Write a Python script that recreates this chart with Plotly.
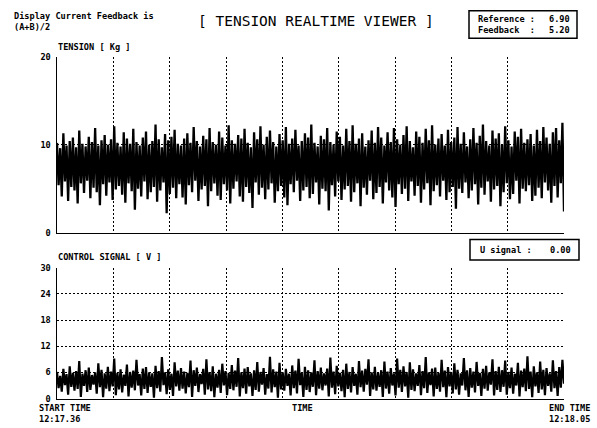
import plotly.graph_objects as go

# ---------------- data ----------------
# TENSION [Kg]: upper / lower swing of each sample pair across the time window
tension_hi = [
    10.2, 9.6, 11.3, 9.9, 10.4, 10.8, 9.7, 11.6, 10.1, 9.8,
    10.9, 10.3, 11.9, 9.9, 10.5, 11.1, 10.0, 10.6, 12.1, 10.2,
    9.8, 11.4, 10.7, 10.1, 11.8, 10.3, 9.9, 10.8, 11.5, 10.0,
    10.4, 12.3, 10.6, 9.7, 11.2, 10.5, 10.9, 11.7, 10.1, 9.9,
    10.7, 11.3, 10.2, 12.0, 10.4, 9.8, 11.0, 10.6, 11.9, 10.3,
    10.0, 11.5, 10.8, 9.9, 12.2, 10.5, 10.1, 11.1, 10.7, 11.8,
    10.2, 9.7, 11.4, 10.6, 12.1, 10.0, 10.9, 11.6, 10.3, 9.8,
    11.2, 10.5, 12.0, 10.1, 10.7, 11.7, 9.9, 10.4, 11.3, 10.8,
    12.3, 10.2, 9.8, 11.0, 10.6, 11.9, 10.3, 10.0, 11.5, 10.9,
    9.9, 11.8, 10.4, 12.2, 10.1, 10.7, 11.3, 9.8, 10.5, 11.6,
    10.2, 12.0, 10.8, 9.9, 11.4, 10.3, 11.9, 10.6, 10.0, 11.1,
    12.1, 10.4, 9.7, 11.5, 10.9, 10.2, 11.8, 10.5, 12.2, 10.0,
    10.7, 11.2, 9.9, 11.7, 10.3, 10.8, 12.0, 10.1, 11.4, 9.8,
    10.6, 11.9, 10.2, 11.0, 12.3, 10.4, 9.9, 11.6, 10.7, 11.3,
    10.0, 12.1, 10.5, 9.8, 11.5, 10.9, 11.8, 10.2, 10.6, 11.2,
    9.9, 11.7, 10.4, 12.0, 10.8, 10.1, 11.4, 11.9, 10.5, 12.5,
]
tension_lo = [
    5.4, 4.1, 5.8, 3.6, 5.2, 4.8, 3.3, 5.6, 4.5, 5.9,
    3.9, 5.1, 4.6, 3.1, 5.5, 4.2, 5.7, 3.7, 4.9, 5.3,
    4.3, 3.4, 5.6, 4.7, 2.6, 5.0, 4.1, 5.8, 3.8, 4.6,
    5.2, 3.5, 4.8, 5.7, 2.2, 4.4, 5.1, 3.9, 5.5, 4.0,
    3.2, 5.4, 4.6, 5.9, 3.6, 4.9, 5.3, 3.0, 4.7, 5.6,
    4.2, 3.7, 5.5, 4.8, 3.3, 5.0, 5.8, 4.1, 3.5, 5.2,
    4.5, 2.8, 5.7, 4.3, 5.1, 3.8, 4.9, 5.6, 3.4, 4.7,
    5.3, 4.0, 3.1, 5.5, 4.6, 5.9, 3.6, 4.8, 5.2, 3.9,
    4.4, 5.7, 3.2, 5.0, 4.7, 2.5, 5.4, 4.1, 5.8, 3.7,
    4.9, 5.3, 3.5, 4.6, 5.6, 3.0, 5.1, 4.3, 5.9, 3.8,
    4.5, 5.2, 3.3, 5.7, 4.8, 4.0, 2.9, 5.5, 4.4, 5.0,
    3.6, 5.8, 4.2, 5.3, 3.4, 4.9, 5.6, 3.1, 4.7, 5.4,
    4.1, 5.9, 3.7, 4.6, 5.2, 2.7, 5.0, 4.5, 5.7, 3.9,
    4.8, 5.5, 3.2, 5.1, 4.3, 5.8, 3.5, 4.9, 5.3, 3.0,
    4.6, 5.6, 3.8, 4.4, 5.9, 3.3, 5.0, 4.7, 5.4, 3.6,
    4.2, 5.1, 3.9, 5.7, 4.8, 3.4, 5.3, 4.0, 5.6, 2.4,
]
# CONTROL SIGNAL [V]
control_hi = [
    6.1, 5.2, 6.8, 5.6, 7.4, 5.9, 6.3, 8.6, 5.7, 6.5,
    7.1, 5.4, 6.0, 8.1, 6.6, 5.8, 7.3, 6.2, 9.2, 5.9,
    6.7, 5.5, 7.8, 6.1, 6.4, 8.9, 5.6, 6.9, 7.2, 6.0,
    5.8, 7.5, 6.3, 9.5, 6.0, 6.7, 5.7, 8.3, 6.4, 7.0,
    6.2, 5.9, 8.7, 6.5, 7.1, 5.6, 6.8, 9.0, 6.1, 7.4,
    5.7, 6.6, 8.0, 6.3, 5.9, 7.7, 6.4, 9.3, 6.0, 6.9,
    7.2, 5.8, 6.5, 8.4, 6.1, 7.0, 5.6, 9.6, 6.7, 6.2,
    8.2, 6.0, 6.8, 5.7, 7.6, 6.4, 9.1, 5.9, 7.3, 6.5,
    6.0, 8.8, 6.3, 7.1, 5.8, 6.9, 9.4, 6.2, 7.5, 5.9,
    6.6, 8.0, 6.1, 7.2, 5.7, 8.6, 6.4, 6.8, 9.0, 6.0,
    7.3, 5.9, 6.5, 8.5, 6.2, 7.0, 5.8, 9.2, 6.6, 7.4,
    6.1, 8.3, 6.7, 5.8, 7.7, 6.3, 9.5, 6.0, 6.9, 7.1,
    5.9, 8.9, 6.4, 7.2, 6.1, 8.1, 6.6, 5.8, 9.3, 6.5,
    7.0, 6.2, 8.4, 5.9, 6.8, 7.5, 6.0, 9.0, 6.3, 7.3,
    6.5, 8.7, 6.1, 7.1, 5.7, 8.2, 6.4, 6.9, 9.7, 6.2,
    7.4, 6.0, 8.5, 6.6, 7.0, 5.8, 8.8, 6.3, 7.2, 8.9,
]
control_lo = [
    2.4, 1.6, 3.1, 0.9, 2.7, 1.8, 2.2, 0.4, 2.9, 1.5,
    2.0, 3.2, 1.1, 2.6, 0.3, 2.3, 1.7, 2.8, 0.8, 2.1,
    1.4, 2.9, 0.5, 2.5, 1.9, 3.0, 0.7, 2.2, 1.3, 2.7,
    0.2, 2.4, 1.6, 3.1, 1.0, 2.0, 0.6, 2.8, 1.8, 2.3,
    1.2, 2.6, 0.4, 2.9, 1.5, 3.3, 0.9, 2.1, 1.7, 0.3,
    2.5, 1.3, 3.0, 0.8, 2.2, 1.9, 2.7, 0.5, 2.4, 1.1,
    2.8, 0.6, 2.0, 1.6, 3.2, 0.9, 2.3, 1.4, 2.6, 0.2,
    2.1, 1.8, 2.9, 0.7, 2.4, 1.2, 3.1, 0.4, 2.0, 1.5,
    2.7, 0.8, 2.3, 1.9, 3.0, 0.5, 2.5, 1.0, 2.8, 1.7,
    0.3, 2.2, 1.4, 2.9, 0.9, 2.6, 1.6, 3.2, 0.6, 2.1,
    1.8, 2.7, 0.4, 2.3, 1.1, 3.0, 0.7, 2.5, 1.5, 2.8,
    0.2, 2.0, 1.7, 2.9, 0.8, 2.4, 1.3, 3.1, 0.5, 2.2,
    1.6, 2.6, 0.3, 2.8, 1.2, 2.1, 0.9, 3.0, 1.9, 0.4,
    2.5, 1.4, 2.9, 0.6, 2.3, 1.8, 3.2, 0.7, 2.0, 1.5,
    2.7, 0.9, 2.4, 1.1, 3.0, 0.5, 2.6, 1.7, 2.2, 0.3,
    2.8, 1.3, 2.1, 0.8, 2.9, 1.6, 2.4, 0.6, 2.5, 3.4,
]
tension_ticks = [0, 10, 20]
control_ticks = [0, 6, 12, 18, 24, 30]
time_divisions = 9
reference_value = "6.90"
feedback_value = "5.20"
u_signal_value = "0.00"
start_time = "12:17.36"
end_time = "12:18.05"

# ---------------- build ----------------
W, H = 597, 428
def px(x):
    return x / W
def py(y):
    return 1 - y / H

def interleave(hi, lo):
    ys = []
    for a, b in zip(hi, lo):
        ys.append(a)
        ys.append(b)
    n = len(ys)
    xs = [k * time_divisions / (n - 1) for k in range(n)]
    return xs, ys

xt, yt = interleave(tension_hi, tension_lo)
xc, yc = interleave(control_hi, control_lo)

fig = go.Figure()
fig.add_trace(go.Scatter(x=xt, y=yt, mode="lines", line=dict(color="black", width=2.3),
                         xaxis="x", yaxis="y", showlegend=False, hoverinfo="skip"))
fig.add_trace(go.Scatter(x=xc, y=yc, mode="lines", line=dict(color="black", width=2.2),
                         xaxis="x2", yaxis="y2", showlegend=False, hoverinfo="skip"))

FONT = "DejaVu Sans Mono"
small = dict(family=FONT, size=8.6, color="black", weight="bold")
dash = "2px,2px"
xdom = [px(57), px(564)]

common_x = dict(range=[0, time_divisions], dtick=1, tick0=0, showticklabels=False,
                showgrid=True, gridcolor="black", gridwidth=1, griddash=dash,
                zeroline=False, showline=True, linecolor="black", linewidth=1.5,
                ticks="", fixedrange=True)
fig.update_layout(
    width=W, height=H,
    margin=dict(l=0, r=0, t=0, b=0),
    paper_bgcolor="white", plot_bgcolor="white",
    showlegend=False,
    xaxis=dict(domain=xdom, anchor="y", **common_x),
    xaxis2=dict(domain=xdom, anchor="y2", **common_x),
    yaxis=dict(domain=[py(233), py(53)], anchor="x", range=[0, 20],
               tickvals=tension_ticks, ticktext=[str(v) for v in tension_ticks],
               tickfont=small, ticks="", ticklabelstandoff=3, fixedrange=True,
               showgrid=True, gridcolor="black", gridwidth=1, griddash=dash,
               zeroline=False, showline=True, linecolor="black", linewidth=1.5),
    yaxis2=dict(domain=[py(403), py(269)], anchor="x2", range=[0, 30],
                tickvals=control_ticks, ticktext=[str(v) for v in control_ticks],
                tickfont=small, ticks="", ticklabelstandoff=3, fixedrange=True,
                showgrid=True, gridcolor="black", gridwidth=1, griddash=dash,
                zeroline=False, showline=True, linecolor="black", linewidth=1.5),
)

def text(x, y, s, xanchor="left", font=small, align="left"):
    fig.add_annotation(x=px(x), y=py(y), xref="paper", yref="paper", text=s,
                       showarrow=False, xanchor=xanchor, yanchor="middle", font=font,
                       align=align, borderpad=0)

text(13, 17, "Display Current Feedback is<br>(A+B)/2")
text(316, 16, "[ TENSION REALTIME VIEWER ]", xanchor="center",
     font=dict(family=FONT, size=14.5, color="black"), align="center")
text(57, 43, "TENSION [ Kg ]")
text(57, 258, "CONTROL SIGNAL [ V ]")

# value boxes
fig.add_shape(type="rect", xref="paper", yref="paper", x0=px(469), x1=px(577),
              y0=py(34), y1=py(6), line=dict(color="black", width=1.5))
text(477, 20, "Reference :<br>Feedback  :")
text(571, 20, reference_value + "<br>" + feedback_value, xanchor="right", align="right")

fig.add_shape(type="rect", xref="paper", yref="paper", x0=px(470), x1=px(579),
              y0=py(261), y1=py(240), line=dict(color="black", width=1.5))
text(479, 251, "U signal :")
text(572, 251, u_signal_value, xanchor="right", align="right")

text(38, 418, "START TIME<br>" + start_time)
text(302, 413, "TIME", xanchor="center", align="center")
text(591, 418, "END TIME<br>" + end_time, xanchor="right", align="right")

fig.write_html("out.html", config={"displayModeBar": False, "staticPlot": True},
               post_script="document.body.style.margin='0';document.body.style.overflow='hidden';")
